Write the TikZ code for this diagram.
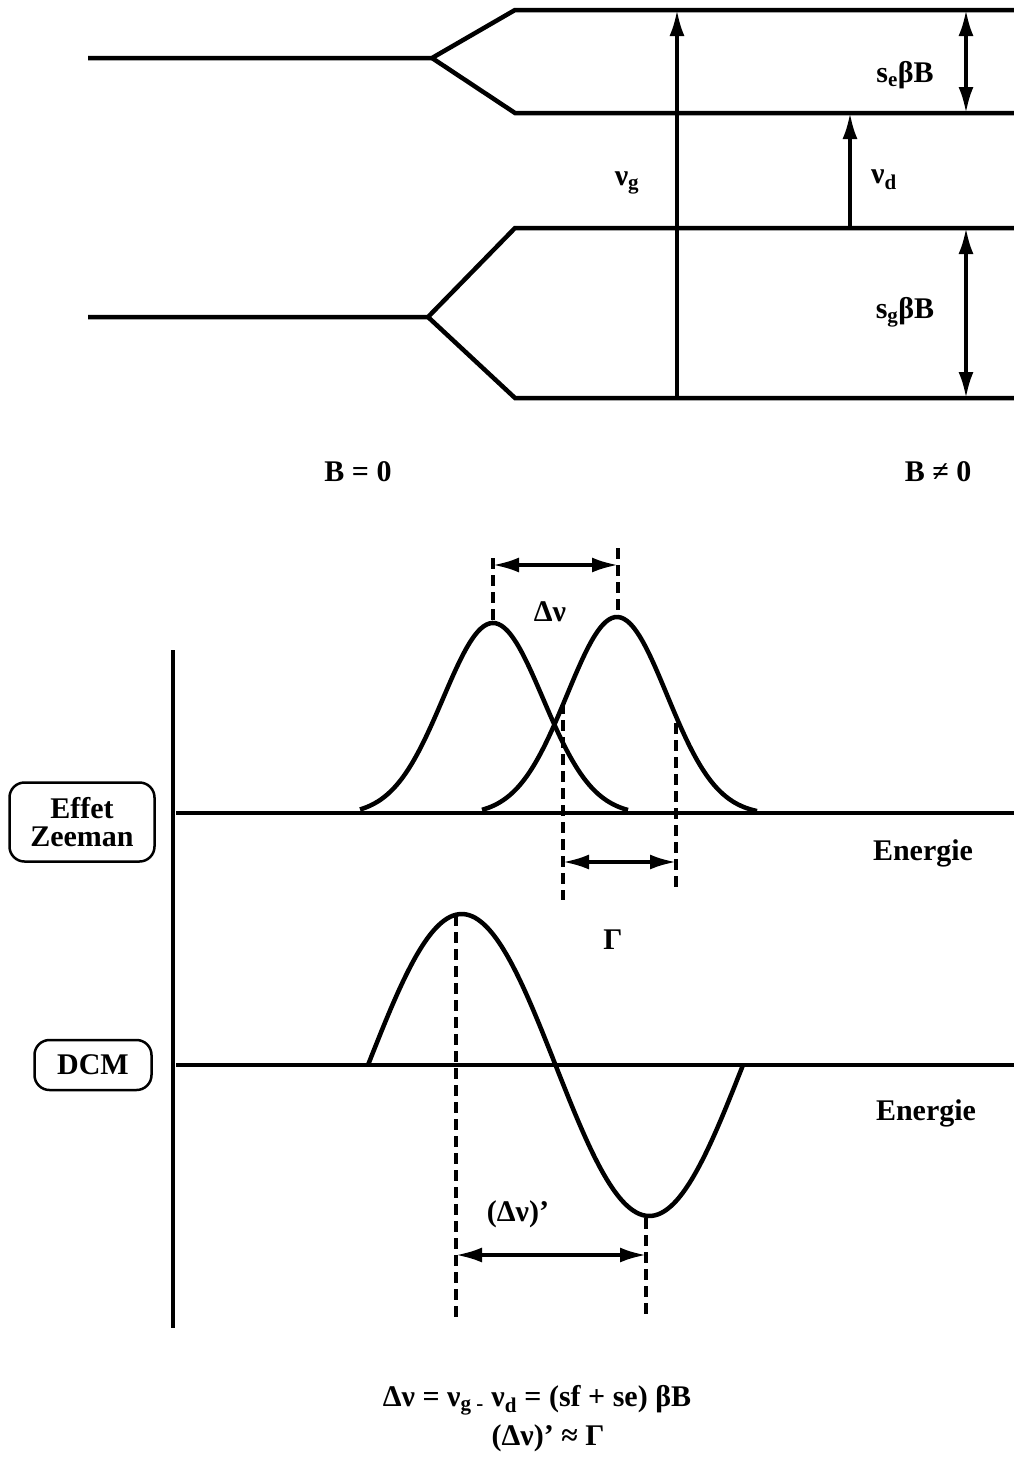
\documentclass[tikz,border=0pt]{standalone}
\usepackage{fontspec}
\setmainfont{Liberation Serif}
\usetikzlibrary{arrows.meta}
\begin{document}
\begin{tikzpicture}[x=1pt,y=-1pt,
  lvl/.style={line width=4.5pt,line join=miter},
  tip/.tip={Latex[length=26pt,width=15pt]},
  arr/.style={line width=3.5pt,-tip},
  darr/.style={line width=3.5pt,tip-tip},
  dsh/.style={line width=3.5pt,dash pattern=on 11pt off 6pt},
  curve/.style={line width=4.5pt},
  base/.style={line width=4pt},
  lab/.style={font=\bfseries\fontsize{30}{34}\selectfont,inner sep=0pt},
  tag/.style={draw,line width=2.5pt,rounded corners=15pt,align=center,
    font=\bfseries\fontsize{30}{34}\selectfont,inner sep=0pt}]
\useasboundingbox (0,0) rectangle (1014,1484);
% ---------- energy levels ----------
\coordinate (eL) at (88,58);   \coordinate (eS) at (432,58);
\coordinate (eUa) at (515,10); \coordinate (eUb) at (1014,10);
\coordinate (eDa) at (515,113);\coordinate (eDb) at (1014,113);
\coordinate (gL) at (88,317);  \coordinate (gS) at (428,317);
\coordinate (gUa) at (515,228);\coordinate (gUb) at (1014,228);
\coordinate (gDa) at (515,398);\coordinate (gDb) at (1014,398);
\draw[lvl] (eL) -- (eS) -- (eUa) -- (eUb);
\draw[lvl] (eS) -- (eDa) -- (eDb);
\draw[lvl] (gL) -- (gS) -- (gUa) -- (gUb);
\draw[lvl] (gS) -- (gDa) -- (gDb);
% transitions
\coordinate (ngB) at (677,398); \coordinate (ngT) at (677,10);
\coordinate (ndB) at (850,228); \coordinate (ndT) at (850,113);
\coordinate (seT) at (966,10);  \coordinate (seB) at (966,113);
\coordinate (sgT) at (966,228); \coordinate (sgB) at (966,398);
\draw[arr] (ngB) -- (ngT);
\draw[arr] (ndB) -- (ndT);
\draw[darr] (seT) -- (seB);
\draw[darr] (sgT) -- (sgB);
\node[lab] (lng) at (627,183) {ν\textsubscript{g}};
\node[lab] (lnd) at (884,180) {ν\textsubscript{d}};
\node[lab] (lse) at (905,75) {s\textsubscript{e}βB};
\node[lab] (lsg) at (905,312) {s\textsubscript{g}βB};
\node[lab] (b0) at (358,472) {B = 0};
\node[lab] (b1) at (938,472) {B ≠ 0};
% ---------- bottom axes ----------
\coordinate (axT) at (173,650); \coordinate (axB) at (173,1328);
\draw[base] (axT) -- (axB);
\coordinate (zL) at (176,813); \coordinate (zR) at (1014,813);
\coordinate (dL) at (176,1065); \coordinate (dR) at (1014,1065);
\draw[base] (zL) -- (zR);
\draw[base] (dL) -- (dR);
\node[tag,minimum width=145pt,minimum height=79pt] (zee) at (82,822) {Effet\\[-6pt]Zeeman};
\node[tag,minimum width=117pt,minimum height=50pt] (dcm) at (93,1065) {DCM};
\node[lab] (en1) at (923,853) {Energie};
\node[lab] (en2) at (926,1113) {Energie};
% gaussians
\draw[curve] plot[domain=360:628,samples=90,smooth] (\x,{815-192*exp(-0.5*((\x-493)/50)^2)});
\draw[curve] plot[domain=482:757,samples=90,smooth] (\x,{815-198*exp(-0.5*((\x-617)/50)^2)});
% Delta nu
\coordinate (dv1T) at (493,558); \coordinate (dv1B) at (493,620);
\coordinate (dv2T) at (618,548); \coordinate (dv2B) at (618,612);
\draw[dsh] (dv1T) -- (dv1B);
\draw[dsh] (dv2T) -- (dv2B);
\coordinate (dvA) at (493,565); \coordinate (dvB) at (618,565);
\draw[darr] (dvA) -- (dvB);
\node[lab] (ldv) at (550,612) {Δν};
% Gamma
\coordinate (g1T) at (563,703); \coordinate (g1B) at (563,900);
\coordinate (g2T) at (676,723); \coordinate (g2B) at (676,888);
\draw[dsh] (g1T) -- (g1B);
\draw[dsh] (g2T) -- (g2B);
\coordinate (gA) at (563,862); \coordinate (gB) at (676,862);
\draw[darr] (gA) -- (gB);
\node[lab] (lg) at (613,940) {Γ};
% DCM derivative curve
\draw[curve] plot[domain=368:743,samples=120,smooth] (\x,{1065-151*sin(0.96*(\x-368))});
\coordinate (p1T) at (456,915); \coordinate (p1B) at (456,1320);
\coordinate (p2T) at (646,1218); \coordinate (p2B) at (646,1318);
\draw[dsh] (p1T) -- (p1B);
\draw[dsh] (p2T) -- (p2B);
\coordinate (pA) at (456,1255); \coordinate (pB) at (646,1255);
\draw[darr] (pA) -- (pB);
\node[lab] (ldvp) at (518,1214) {(Δν)’};
% equations
\node[lab] (eq1) at (537,1400) {Δν = ν\textsubscript{g -} ν\textsubscript{d} = (sf + se) βB};
\node[lab] (eq2) at (548,1438) {(Δν)’ ≈ Γ};
\end{tikzpicture}
\end{document}
